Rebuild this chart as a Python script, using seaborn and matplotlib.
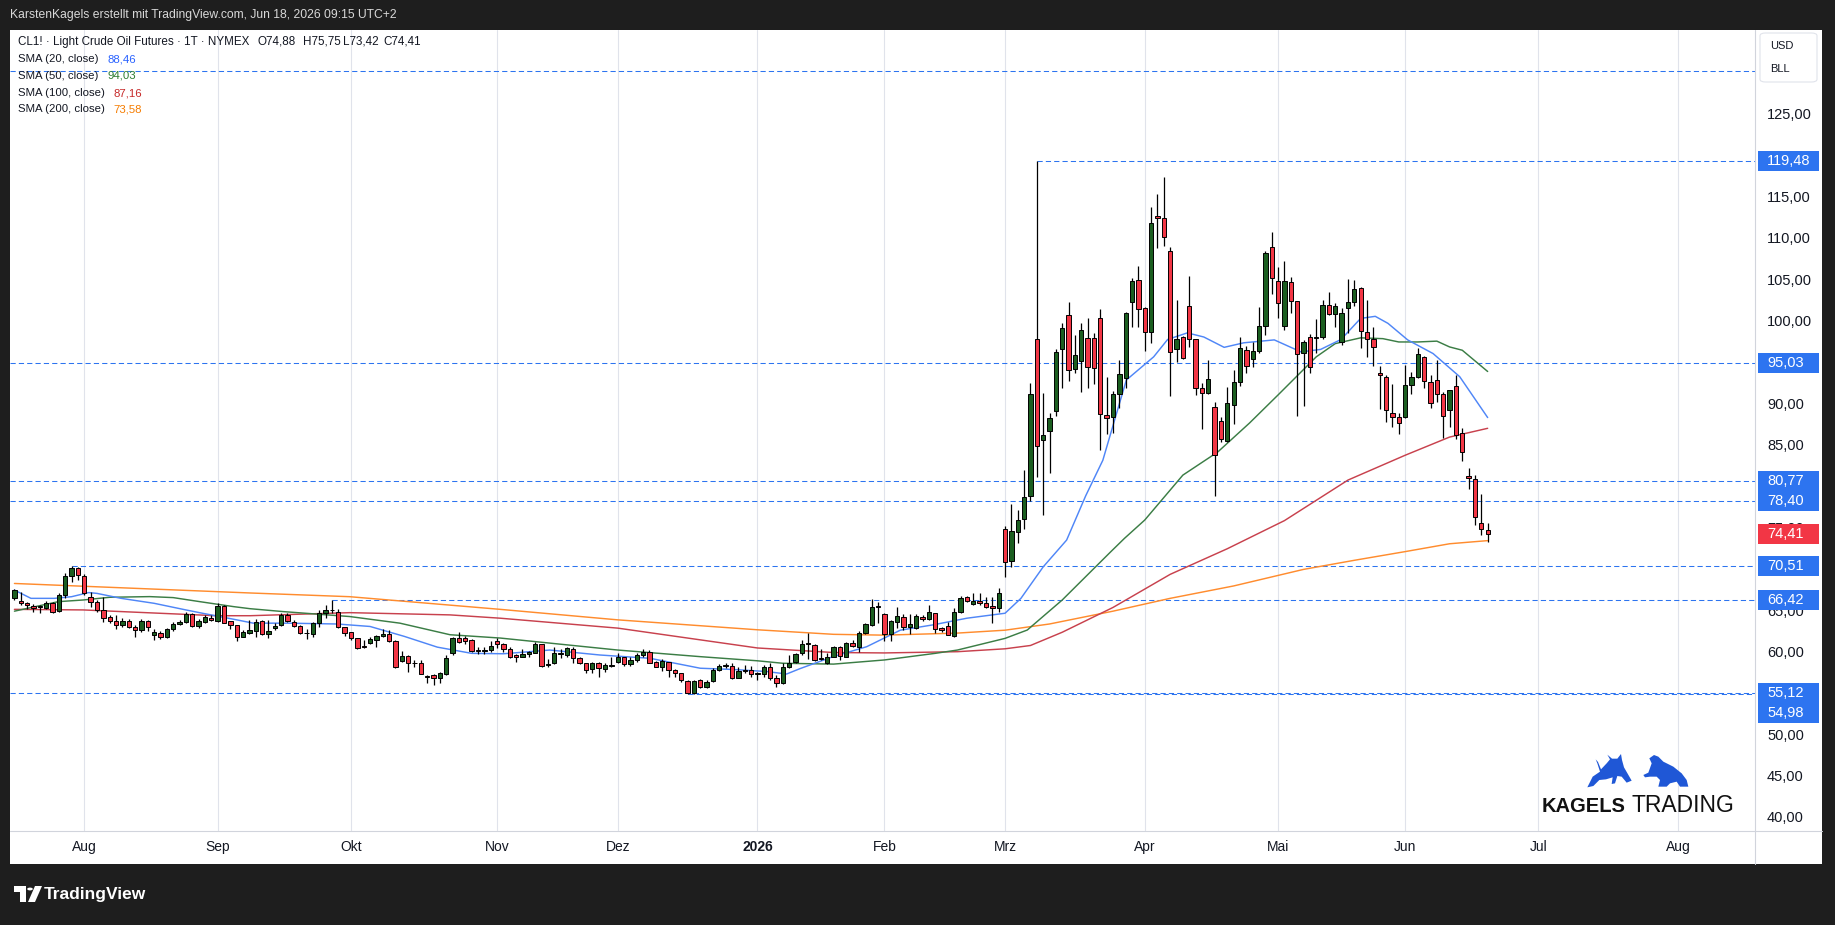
import numpy as np
import pandas as pd
import matplotlib
matplotlib.use('Agg')
import matplotlib.pyplot as plt
import matplotlib.transforms as mtransforms
from matplotlib.lines import Line2D
from matplotlib.patches import Rectangle, Polygon, Circle, FancyBboxPatch
import seaborn as sns

sns.set_style("white")
plt.rcParams['font.family'] = ['Liberation Sans', 'DejaVu Sans']

# ---- daily candles CL1!, 17 Jul 2025 .. 18 Jun 2026 ----
opens = [
    66.60, 66.24, 66.00, 65.72, 65.60, 65.40, 66.08, 65.11, 67.01, 69.31,
    70.23, 69.31, 66.80, 66.20, 65.19, 64.31, 63.82, 63.42, 63.90, 63.10,
    62.74, 63.82, 62.13, 62.45, 61.89, 62.86, 63.50, 63.78, 64.71, 63.30,
    63.78, 64.23, 63.90, 65.68, 63.83, 63.38, 61.97, 62.37, 62.70, 63.82,
    62.25, 62.98, 63.34, 64.55, 63.70, 63.26, 62.40, 62.25, 63.58, 64.79,
    65.15, 64.99, 63.10, 62.49, 61.77, 60.70, 61.16, 61.57, 62.05, 62.25,
    61.49, 59.03, 59.63, 58.78, 58.74, 57.17, 57.33, 56.93, 57.46, 59.95,
    61.77, 61.77, 61.57, 60.30, 60.27, 60.36, 61.49, 61.05, 60.44, 59.75,
    59.55, 59.84, 60.04, 61.05, 58.51, 58.75, 59.84, 59.75, 60.44, 59.35,
    58.75, 58.02, 58.83, 58.02, 58.46, 58.95, 59.47, 58.63, 59.15, 59.75,
    60.08, 58.87, 58.34, 58.87, 57.94, 57.54, 56.65, 55.12, 56.73, 55.85,
    56.61, 57.94, 58.46, 58.42, 56.99, 57.82, 57.94, 57.46, 57.42, 58.34,
    56.93, 56.41, 58.34, 58.95, 59.96, 61.05, 60.93, 59.27, 58.83, 59.55,
    60.68, 59.55, 61.17, 60.76, 62.45, 63.38, 65.52, 64.71, 62.25, 63.78,
    64.39, 63.10, 62.98, 64.39, 64.15, 64.79, 63.06, 63.26, 62.09, 64.91,
    66.72, 65.88, 66.28, 66.00, 65.68, 65.39, 74.94, 71.15, 74.66, 76.15,
    79.01, 97.92, 85.75, 86.83, 89.25, 96.70, 100.86, 94.29, 95.30, 98.04,
    98.04, 100.45, 88.76, 88.48, 91.30, 93.20, 102.47, 105.09, 101.66, 98.84,
    112.87, 112.55, 108.64, 96.70, 98.16, 101.95, 97.92, 91.99, 91.38, 89.69,
    88.08, 85.66, 89.97, 92.80, 96.62, 95.50, 96.54, 99.57, 109.04, 105.01,
    99.57, 104.81, 102.59, 96.22, 98.16, 98.12, 98.24, 102.07, 100.94, 97.63,
    101.66, 102.47, 104.08, 98.84, 97.92, 93.81, 93.40, 89.05, 88.48, 88.48,
    92.40, 93.40, 95.74, 92.72, 93.00, 91.27, 89.37, 92.28, 86.55, 81.39,
    80.99, 75.67, 74.88]
highs = [
    67.69, 67.41, 66.20, 65.88, 65.80, 66.32, 66.20, 67.21, 69.71, 70.51,
    70.43, 69.55, 67.41, 66.40, 66.80, 64.59, 64.59, 64.19, 64.07, 63.38,
    64.07, 63.98, 62.86, 62.70, 62.98, 63.78, 63.98, 64.99, 64.87, 64.15,
    64.59, 64.59, 66.08, 65.76, 63.83, 63.42, 62.78, 63.99, 64.07, 63.99,
    63.99, 63.66, 64.79, 64.79, 63.99, 63.38, 62.86, 63.78, 65.20, 65.80,
    66.42, 65.27, 63.18, 62.57, 61.85, 61.57, 61.97, 62.17, 62.86, 62.78,
    61.57, 60.23, 59.75, 59.15, 59.15, 57.33, 57.42, 57.74, 59.75, 61.89,
    62.57, 62.05, 61.65, 60.76, 60.68, 61.45, 61.77, 61.17, 60.68, 59.87,
    60.44, 60.28, 61.37, 61.09, 59.23, 60.68, 60.44, 60.76, 60.68, 59.47,
    58.83, 58.95, 58.95, 58.75, 59.47, 59.96, 59.55, 59.47, 59.96, 60.48,
    60.36, 59.07, 59.23, 58.95, 58.02, 57.62, 56.73, 56.73, 56.81, 56.73,
    58.14, 58.67, 58.75, 58.75, 58.34, 58.55, 58.42, 57.74, 58.55, 58.83,
    57.33, 58.75, 59.75, 59.96, 61.57, 62.37, 61.09, 60.44, 59.96, 60.84,
    60.84, 61.37, 61.57, 62.70, 63.66, 66.48, 66.20, 64.79, 63.99, 65.60,
    64.71, 64.71, 64.71, 64.55, 65.80, 64.87, 63.18, 63.78, 65.39, 66.88,
    66.88, 67.21, 67.21, 66.80, 66.72, 67.81, 75.34, 78.00, 77.28, 82.11,
    92.60, 119.48, 91.38, 88.97, 96.70, 99.93, 102.39, 98.44, 99.85, 100.53,
    98.72, 101.58, 93.40, 91.71, 95.42, 101.26, 105.37, 106.78, 101.87, 113.96,
    115.49, 117.59, 109.12, 102.67, 98.30, 105.61, 98.00, 92.60, 95.42, 90.38,
    88.48, 92.19, 94.21, 98.24, 97.11, 97.63, 101.79, 108.60, 110.89, 106.70,
    107.43, 105.41, 102.59, 97.84, 98.52, 100.33, 102.67, 103.60, 102.27, 101.66,
    105.21, 105.09, 104.28, 102.67, 99.37, 94.69, 93.60, 92.51, 88.97, 94.81,
    93.93, 96.91, 95.90, 93.60, 95.42, 91.59, 91.79, 93.60, 87.16, 82.32,
    81.51, 79.22, 75.75]
lows = [
    66.40, 65.80, 65.27, 64.99, 64.79, 65.28, 64.87, 64.99, 66.60, 68.62,
    68.82, 67.01, 65.60, 64.99, 63.78, 63.66, 62.86, 63.18, 62.98, 61.97,
    62.57, 62.70, 61.57, 61.73, 61.77, 62.70, 63.38, 63.58, 63.18, 63.06,
    63.66, 63.86, 63.74, 63.58, 62.86, 61.49, 61.89, 62.29, 61.97, 62.17,
    61.77, 62.78, 63.26, 63.78, 63.18, 62.25, 61.65, 61.97, 63.10, 64.19,
    64.79, 62.98, 62.05, 61.57, 60.52, 60.64, 61.08, 60.76, 61.97, 61.36,
    58.20, 58.95, 57.74, 58.34, 57.42, 56.33, 56.12, 56.33, 57.33, 59.75,
    61.24, 61.08, 60.15, 59.87, 59.87, 60.15, 60.56, 60.16, 59.35, 58.95,
    59.47, 59.55, 59.96, 58.34, 58.26, 58.67, 59.35, 59.55, 58.75, 58.67,
    57.54, 57.54, 57.13, 57.74, 58.34, 58.83, 58.42, 58.42, 58.95, 59.55,
    58.75, 58.26, 57.86, 57.05, 57.13, 56.45, 54.98, 55.04, 55.73, 55.73,
    56.53, 57.86, 58.22, 56.81, 56.93, 57.54, 57.13, 56.73, 57.13, 56.73,
    55.85, 56.25, 58.14, 58.83, 59.75, 59.23, 59.07, 59.15, 58.67, 59.47,
    59.15, 59.47, 60.68, 60.16, 62.29, 63.26, 63.66, 61.49, 61.49, 62.98,
    62.78, 62.29, 62.86, 63.90, 63.99, 62.45, 62.57, 62.13, 61.97, 64.79,
    66.20, 65.80, 65.80, 65.39, 63.66, 64.99, 69.22, 70.43, 73.33, 74.98,
    78.37, 81.23, 76.67, 81.79, 88.64, 92.07, 92.92, 93.88, 91.50, 92.07,
    92.47, 84.53, 86.43, 86.55, 89.57, 92.07, 99.45, 99.45, 96.54, 97.51,
    108.92, 109.20, 91.10, 95.22, 95.50, 97.03, 91.18, 87.03, 91.30, 78.97,
    85.54, 85.54, 87.68, 92.27, 93.80, 94.53, 96.22, 98.44, 103.36, 100.45,
    99.04, 101.14, 88.64, 89.85, 93.88, 96.22, 97.92, 100.86, 99.45, 97.23,
    98.64, 101.95, 96.82, 95.82, 94.69, 89.45, 87.88, 87.27, 86.47, 88.36,
    91.31, 93.20, 92.00, 89.66, 90.38, 86.03, 87.36, 85.83, 83.25, 79.78,
    75.47, 74.26, 73.42]
closes = [
    67.61, 66.00, 65.76, 65.40, 65.68, 66.08, 64.99, 67.01, 69.31, 70.23,
    69.43, 67.21, 66.20, 65.19, 64.19, 63.82, 63.34, 63.90, 63.10, 62.74,
    63.90, 63.10, 62.53, 61.97, 62.86, 63.46, 63.74, 64.71, 63.30, 63.86,
    64.31, 63.98, 65.68, 63.66, 63.34, 61.89, 62.53, 62.78, 63.78, 62.25,
    62.66, 63.26, 64.55, 63.90, 63.30, 62.37, 62.37, 63.58, 64.79, 65.20,
    65.20, 63.10, 62.37, 61.77, 60.64, 60.68, 61.69, 62.05, 62.29, 61.49,
    58.26, 59.63, 58.74, 58.74, 57.46, 57.13, 56.93, 57.54, 59.35, 61.77,
    61.36, 61.49, 60.23, 60.27, 60.30, 60.84, 61.08, 60.44, 59.55, 59.47,
    59.84, 60.08, 61.05, 58.42, 58.67, 59.96, 59.96, 60.56, 59.35, 58.75,
    57.94, 58.83, 58.14, 58.55, 58.50, 59.47, 58.63, 59.15, 59.75, 60.08,
    58.83, 58.34, 59.03, 57.94, 57.54, 56.73, 55.12, 56.65, 55.85, 56.53,
    57.94, 58.46, 58.50, 56.93, 57.82, 57.86, 57.42, 57.50, 58.34, 56.93,
    56.33, 58.34, 58.75, 59.84, 61.05, 61.09, 59.15, 59.23, 59.47, 60.68,
    59.63, 61.25, 60.84, 62.45, 63.50, 65.52, 65.72, 62.25, 63.90, 64.47,
    63.10, 63.50, 64.47, 64.15, 64.95, 62.86, 62.78, 62.21, 64.99, 66.68,
    66.32, 66.28, 66.00, 65.60, 65.39, 67.21, 70.95, 74.70, 76.07, 78.81,
    91.30, 85.00, 86.34, 88.36, 96.34, 99.25, 94.21, 95.98, 99.00, 94.53,
    94.41, 88.84, 88.36, 91.30, 93.72, 101.14, 104.97, 101.54, 98.84, 111.94,
    112.55, 110.25, 96.42, 97.92, 95.62, 97.92, 91.99, 91.38, 93.08, 83.93,
    85.82, 90.18, 92.80, 96.90, 94.69, 96.54, 99.57, 108.40, 105.29, 102.35,
    105.01, 102.59, 96.10, 97.55, 94.61, 98.20, 102.07, 100.94, 101.95, 101.06,
    102.39, 103.96, 98.96, 97.92, 96.94, 93.56, 89.37, 88.48, 87.76, 92.39,
    93.32, 96.10, 92.88, 90.18, 91.31, 88.65, 91.79, 86.35, 84.25, 81.11,
    76.47, 74.94, 74.41]

# exchange holidays without a daily bar
holidays = ['2025-09-01', '2025-11-27', '2025-12-25', '2026-01-01', '2026-01-19',
            '2026-02-16', '2026-04-03', '2026-05-25', '2026-06-19', '2026-07-03']

# moving averages, read at bar positions
sma20_x = [0, 2.6, 6.3, 9, 11.7, 13, 16.8, 22, 27, 29.6, 35, 37.6, 43, 50.8, 56, 61.4,
           66.6, 72, 77, 84.3, 92.2, 100.1, 108, 113.2, 118.5, 121.6, 123.7, 128.9,
           134.2, 139.5, 144.7, 150, 156, 158.5, 162, 165.7, 168.7, 171.4, 175.1,
           179.4, 181.6, 184.7, 187.3, 190.5, 193.6, 198.4, 202.6, 205.7, 208.9, 212,
           214.3, 216.3, 219.4, 223.4, 227.6, 232]
sma20_y = [67.6, 66.6, 66.6, 66.8, 67.3, 67.2, 66.6, 66.0, 65.2, 64.8, 64.0, 63.6, 63.6,
           63.5, 63.2, 62.0, 60.7, 59.95, 59.9, 60.35, 59.75, 59.35, 58.15, 58.0, 57.75,
           57.45, 58.1, 59.55, 60.75, 62.75, 63.4, 64.2, 64.8, 66.6, 70.4, 73.65, 79.0,
           83.3, 93.0, 95.8, 97.9, 98.7, 98.2, 96.95, 97.5, 97.85, 96.4, 96.7, 97.9,
           100.45, 100.7, 99.85, 97.85, 96.2, 93.4, 88.46]
sma50_x = [0, 6.9, 10.8, 15, 21.3, 25, 29.2, 34.5, 37.1, 42.3, 52.8, 60.7, 68.6, 76.5,
           95, 108, 117, 121, 129, 137, 145, 148.5, 156, 159.5, 165, 172.6, 174.8, 178,
           184, 189.5, 194.5, 199, 205, 208, 212, 215.5, 218, 221, 224, 226, 228, 232]
sma50_y = [65.05, 66.2, 66.4, 66.73, 66.81, 66.69, 66.2, 65.6, 65.35, 65.0, 64.4, 63.6,
           62.2, 61.8, 60.35, 59.55, 59.05, 58.75, 58.65, 59.15, 59.95, 60.35, 61.76,
           62.77, 66.4, 72.2, 73.85, 76.07, 81.5, 84.3, 87.8, 91.2, 95.8, 97.4, 98.1,
           98.0, 97.6, 97.6, 97.7, 97.0, 96.6, 94.03]
sma100_x = [0, 10.8, 31.8, 37.1, 52.8, 68.6, 76.5, 95, 117, 129, 137, 148.5, 156, 160,
            165, 173, 182, 191, 200, 210, 219, 226, 232]
sma100_y = [65.27, 65.2, 64.5, 64.5, 64.87, 64.6, 64.2, 63.0, 60.6, 60.05, 60.0, 60.15,
            60.5, 60.9, 62.5, 65.5, 69.5, 72.6, 76.0, 80.9, 83.9, 86.1, 87.16]
sma200_x = [0, 37.1, 52.8, 76.5, 95, 117, 129, 137, 148.5, 156, 163, 173, 182, 192, 203,
            211, 219, 226, 232]
sma200_y = [68.4, 67.25, 66.8, 65.27, 64.0, 62.8, 62.25, 62.15, 62.4, 62.75, 63.5, 65.05,
            66.6, 68.1, 70.1, 71.2, 72.25, 73.2, 73.58]

# horizontal rays: price and the bar they start from (None = whole width)
levels = [130.40, 119.48, 95.03, 80.77, 78.40, 70.51, 66.42, 55.12, 54.98]
level_from = [None, 161, None, None, None, 9, 50, None, 106]
last_price = 74.41

month_names = {1: '2026', 2: 'Feb', 3: 'Mrz', 4: 'Apr', 5: 'Mai', 6: 'Jun', 7: 'Jul',
               8: 'Aug', 9: 'Sep', 10: 'Okt', 11: 'Nov', 12: 'Dez'}

# ---------------------------------------------------------------------------
W, H = 1835, 925
def fx(px):
    return px / W
def fy(py):
    return 1 - py / H

BLUE = '#2d74f0'
INK = '#131722'
XMIN, XMAX = -0.7, 274.1
YMIN, YMAX = 38.47, 135.32

fig = plt.figure(figsize=(W / 100, H / 100), dpi=100, facecolor='#1e1e1e')
panel = fig.add_axes([fx(10), fy(864), fx(1822) - fx(10), fy(30) - fy(864)])
panel.set_facecolor('white')
panel.set_xticks([])
panel.set_yticks([])
for s in panel.spines.values():
    s.set_visible(False)

ax = fig.add_axes([fx(10), fy(831), fx(1755) - fx(10), fy(30) - fy(831)])
ax.set_facecolor('none')
for s in ax.spines.values():
    s.set_visible(False)
ax.set_xticks([])
ax.set_yticks([])

# trading calendar -> month gridlines / labels
days = pd.bdate_range('2025-07-17', '2026-08-31')
days = days[~days.isin(pd.to_datetime(holidays))]
pos = pd.Series(np.arange(len(days)), index=days)
firsts = pos.groupby([days.year, days.month]).first()

tx = mtransforms.blended_transform_factory(ax.transData, fig.transFigure)
for (yr, mo), i in firsts.items():
    if i == 0 or i > XMAX:
        continue
    ax.axvline(i, color='#e0e3eb', lw=0.8, zorder=0)
    ax.text(i, fy(847), month_names[mo], transform=tx, ha='center', va='center',
            fontsize=10, color=INK, fontweight='bold' if mo == 1 else 'normal')

# horizontal rays
for p, start in zip(levels, level_from):
    x0 = XMIN if start is None else start
    ax.plot([x0, XMAX], [p, p], color=BLUE, lw=0.75, ls=(0, (5, 3)), zorder=1.5)

# moving averages
for xs, ys, col in [(sma200_x, sma200_y, '#ff8c2e'), (sma100_x, sma100_y, '#c8414d'),
                    (sma50_x, sma50_y, '#3b7d45'), (sma20_x, sma20_y, '#4f86f7')]:
    sns.lineplot(x=xs, y=ys, ax=ax, color=col, lw=1.05, sort=False, legend=False, zorder=2)

# candles
o, h, l, c = map(np.array, (opens, highs, lows, closes))
x = np.arange(len(o))
up = c >= o
bot = np.minimum(o, c)
hgt = np.maximum(np.abs(c - o), 0.1)
ax.vlines(x, l, h, color='black', lw=0.9, zorder=3)
ax.bar(x[up], hgt[up], bottom=bot[up], width=0.68, color='#1b5e20',
       edgecolor='black', linewidth=0.7, zorder=4)
ax.bar(x[~up], hgt[~up], bottom=bot[~up], width=0.68, color='#f23645',
       edgecolor='black', linewidth=0.7, zorder=4)

ax.set_xlabel('')
ax.set_ylabel('')

# price scale: tags first (stacked when they would overlap), then the ticks they leave visible
tp = mtransforms.blended_transform_factory(fig.transFigure, ax.transData)
box_h = 20 * (YMAX - YMIN) / (831 - 30)
tags = sorted([(p, BLUE) for p in levels[1:]] + [(last_price, '#f23645')], reverse=True)
tag_pos = []
prev = None
for p, col in tags:
    yv = p if prev is None or prev - p >= box_h else prev - box_h
    prev = yv
    tag_pos.append(yv)
    ax.add_patch(Rectangle((fx(1758), yv - box_h / 2), fx(1819) - fx(1758), box_h,
                           transform=tp, facecolor=col, edgecolor='none',
                           clip_on=False, zorder=6))
    ax.text(fx(1767), yv, f'{p:.2f}'.replace('.', ','), transform=tp, ha='left',
            va='center', fontsize=10.5, color='white', clip_on=False, zorder=7)

def covered(lo, hi):
    # is [lo, hi] fully inside the union of tag boxes?
    spans = sorted((t - box_h / 2, t + box_h / 2) for t in tag_pos)
    cur = lo
    for a, b in spans:
        if a <= cur + 1e-6 and b > cur:
            cur = b
    return cur >= hi

for v in range(40, 130, 5):
    if covered(v - 0.65, v + 0.65):
        continue
    ax.text(fx(1767), v, f'{v},00', transform=tp, ha='left', va='center',
            fontsize=10.5, color=INK, clip_on=False, zorder=5)

ax.set_xlim(XMIN, XMAX)
ax.set_ylim(YMIN, YMAX)

# separators
fig.add_artist(Line2D([fx(1755), fx(1755)], [fy(30), fy(864)], color='#d1d4dc', lw=0.8,
                      transform=fig.transFigure))
fig.add_artist(Line2D([fx(10), fx(1822)], [fy(831), fy(831)], color='#d1d4dc', lw=0.8,
                      transform=fig.transFigure))

# currency / unit box
fig.add_artist(FancyBboxPatch((fx(1760), fy(82)), fx(1817) - fx(1760), fy(33) - fy(82),
                              boxstyle='round,pad=0,rounding_size=0.003', facecolor='white',
                              edgecolor='#e0e3eb', lw=0.8, transform=fig.transFigure))
fig.text(fx(1770), fy(46), 'USD', fontsize=8, color=INK, va='center')
fig.text(fx(1770), fy(69), 'BLL', fontsize=8, color=INK, va='center')

# header and legend
fig.text(fx(10), fy(15), 'KarstenKagels erstellt mit TradingView.com, Jun 18, 2026 09:15 UTC+2',
         fontsize=8.7, color='#d8d8d8', va='center')
fig.text(fx(18), fy(42), 'CL1! · Light Crude Oil Futures · 1T · NYMEX',
         fontsize=8.4, color=INK, va='center')
for txt, xp in [('O74,88', 258), ('H75,75', 303), ('L73,42', 343), ('C74,41', 383)]:
    fig.text(fx(xp), fy(42), txt, fontsize=8.4, color=INK, va='center')
legend_rows = [('SMA (20, close)', '88,46', '#2962ff', 59, 107),
               ('SMA (50, close)', '94,03', '#2e7d32', 76, 107),
               ('SMA (100, close)', '87,16', '#c62828', 93, 113),
               ('SMA (200, close)', '73,58', '#f57c00', 109, 113)]
for name, val, col, yy, xv in legend_rows:
    fig.text(fx(18), fy(yy), name, fontsize=8.2, color=INK, va='center')
    fig.text(fx(xv), fy(yy), val, fontsize=8.2, color=col, va='center')

# TradingView footer logo
fig.add_artist(Rectangle((fx(14), fy(892)), fx(26) - fx(14), fy(886) - fy(892),
                         facecolor='white', edgecolor='none', transform=fig.transFigure))
fig.add_artist(Rectangle((fx(20), fy(902)), fx(26) - fx(20), fy(886) - fy(902),
                         facecolor='white', edgecolor='none', transform=fig.transFigure))
fig.add_artist(Circle((fx(30), fy(889)), 2.8 / W, facecolor='white', edgecolor='none',
                      transform=fig.transFigure))
fig.add_artist(Polygon([(fx(35), fy(886)), (fx(42), fy(886)), (fx(35), fy(902)), (fx(28), fy(902))],
                       closed=True, facecolor='white', edgecolor='none', transform=fig.transFigure))
fig.text(fx(44), fy(894), 'TradingView', fontsize=12.5, fontweight='bold', color='white',
         va='center')

# Kagels Trading watermark
def zpt(zx, zy):
    return (fx(1500 + zx / 3), fy(730 + zy / 3))

bull = [(262, 172), (278, 140), (300, 125), (292, 100), (287, 88), (294, 96), (303, 118),
        (320, 100), (330, 88), (322, 74), (336, 86), (352, 86), (363, 72), (366, 90),
        (372, 112), (395, 152), (380, 158), (365, 140), (352, 138), (345, 160), (335, 162),
        (338, 142), (318, 148), (298, 150), (280, 168)]
bear = [(430, 135), (445, 128), (455, 100), (448, 85), (462, 75), (475, 80), (490, 95),
        (520, 110), (545, 130), (560, 150), (565, 170), (540, 170), (530, 155), (510, 160),
        (500, 170), (475, 170), (480, 150), (470, 140), (450, 140), (435, 142)]
for shape in (bull, bear):
    fig.add_artist(Polygon([zpt(a, b) for a, b in shape], closed=True, facecolor='#1f57d6',
                           edgecolor='none', transform=fig.transFigure))
fig.text(fx(1542), fy(806), 'KAGELS', fontsize=14.5, fontweight='bold', color='#111111',
         va='center')
fig.text(fx(1631), fy(806), 'TRADING', fontsize=16.5, color='#111111', va='center')

fig.savefig('out.png', dpi=100, facecolor=fig.get_facecolor())
